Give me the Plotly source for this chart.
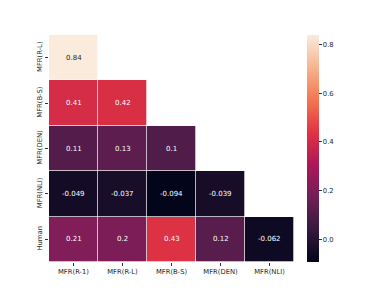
import plotly.graph_objects as go

cols = ["MFR(R-1)", "MFR(R-L)", "MFR(B-S)", "MFR(DEN)", "MFR(NLI)"]
rows = ["MFR(R-L)", "MFR(B-S)", "MFR(DEN)", "MFR(NLI)", "Human"]
row_rl = [0.84, None, None, None, None]
row_bs = [0.41, 0.42, None, None, None]
row_den = [0.11, 0.13, 0.1, None, None]
row_nli = [-0.049, -0.037, -0.094, -0.039, None]
row_human = [0.21, 0.2, 0.43, 0.12, -0.062]
cbar_ticks = [0.0, 0.2, 0.4, 0.6, 0.8]

z = [row_rl, row_bs, row_den, row_nli, row_human]

rocket = [
    [0.0, "#03051A"], [1/7, "#35193e"], [2/7, "#701f57"], [3/7, "#ad1759"],
    [4/7, "#e13342"], [5/7, "#f37651"], [6/7, "#f6b48f"], [1.0, "#FAEBDD"],
]
vals = [v for r in z for v in r if v is not None]
zmin, zmax = min(vals), max(vals)

fig = go.Figure(go.Heatmap(
    z=z, x=cols, y=rows, colorscale=rocket, zmin=zmin, zmax=zmax,
    xgap=0.7, ygap=0.7, hoverongaps=False,
    colorbar=dict(
        x=1.053, xanchor="left", xpad=0, y=0.5, yanchor="middle", len=1.0,
        ypad=0, thickness=12, outlinewidth=0, ticks="outside", ticklen=3,
        tickcolor="#333", tickvals=cbar_ticks, tickformat=".1f",
        tickfont=dict(size=6.8, color="#262626", family="DejaVu Sans"),
    ),
))

annotations = []
for ri, r in enumerate(z):
    for ci, v in enumerate(r):
        if v is None:
            continue
        frac = (v - zmin) / (zmax - zmin)
        color = "#262626" if frac > 0.8 else "#ffffff"
        annotations.append(dict(
            x=cols[ci], y=rows[ri], text=f"{v:.2g}", showarrow=False,
            font=dict(size=7, color=color, family="DejaVu Sans"),
        ))

fig.update_layout(
    width=392, height=294,
    margin=dict(l=41, r=106, t=27, b=40),
    paper_bgcolor="white", plot_bgcolor="white",
    annotations=annotations,
    font=dict(family="DejaVu Sans", color="#333"),
    xaxis=dict(showgrid=False, zeroline=False, ticks="outside", ticklen=3,
               tickcolor="#333", tickfont=dict(size=6.8, color="#262626"),
               showline=False),
    yaxis=dict(showgrid=False, zeroline=False, ticks="outside", ticklen=3,
               tickcolor="#333", tickfont=dict(size=6.8, color="#262626"),
               autorange="reversed", tickangle=-90, showline=False),
)

fig.write_html("out.html")
